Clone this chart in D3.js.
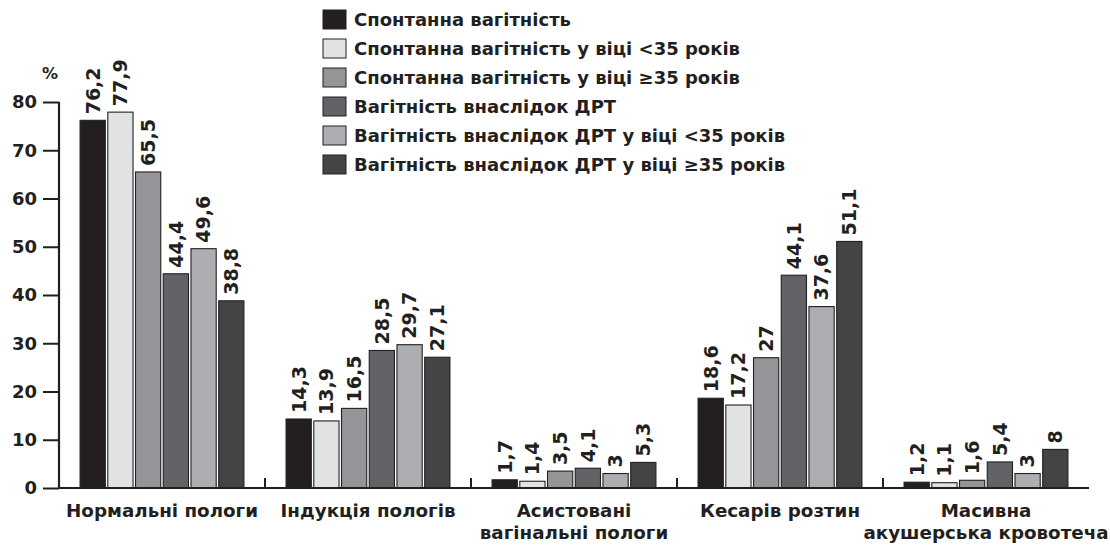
<!DOCTYPE html>
<html>
<head>
<meta charset="utf-8">
<script src="https://cdn.jsdelivr.net/npm/d3@7"></script>
<style>
  html, body { margin: 0; padding: 0; background: #fff; }
  svg { display: block; font-family: "DejaVu Sans", "Liberation Sans", Arial, sans-serif; font-weight: bold; }
</style>
</head>
<body>
<svg id="chart" width="1110" height="545"></svg>
<script>
// Outcome categories (x axis), multi-line labels split on "\n"
const categories = [
  "Нормальні пологи",
  "Індукція пологів",
  "Асистовані\nвагінальні пологи",
  "Кесарів розтин",
  "Масивна\nакушерська кровотеча"
];

// Series names (legend)
const seriesNames = [
  "Спонтанна вагітність",
  "Спонтанна вагітність у віці <35 років",
  "Спонтанна вагітність у віці ≥35 років",
  "Вагітність внаслідок ДРТ",
  "Вагітність внаслідок ДРТ у віці <35 років",
  "Вагітність внаслідок ДРТ у віці ≥35 років"
];

// Percentages per series, one value per category
const spontaneous      = [76.2, 14.3, 1.7, 18.6, 1.2];
const spontaneousUnder = [77.9, 13.9, 1.4, 17.2, 1.1];
const spontaneousOver  = [65.5, 16.5, 3.5, 27.0, 1.6];
const art              = [44.4, 28.5, 4.1, 44.1, 5.4];
const artUnder         = [49.6, 29.7, 3.0, 37.6, 3.0];
const artOver          = [38.8, 27.1, 5.3, 51.1, 8.0];

const seriesValues = [spontaneous, spontaneousUnder, spontaneousOver, art, artUnder, artOver];

const yTicks = [0, 10, 20, 30, 40, 50, 60, 70, 80];

const fills = ["#231f20", "#e1e2e4", "#939598", "#626366", "#adaeb1", "#434446"];
const ink = "#231f20";
const fontStack = "'DejaVu Sans', 'Liberation Sans', Arial, sans-serif";

const svg = d3.select("#chart");

const x0 = d3.scaleBand().domain(d3.range(categories.length)).range([59, 1089]).padding(0);
const x1 = d3.scaleBand().domain(d3.range(seriesNames.length))
  .range([0, x0.bandwidth()]).paddingInner(0.09).paddingOuter(0.76);
const y = d3.scaleLinear().domain([0, 80]).range([488, 102]);

const fmt = v => String(v).replace(".", ",");

// Y axis
const yAxis = svg.append("g").attr("transform", "translate(59,0)")
  .call(d3.axisLeft(y).tickValues(yTicks).tickSize(16).tickPadding(6).tickFormat(d => d));
yAxis.select(".domain").attr("stroke", ink).attr("stroke-width", 2.2)
  .attr("d", `M0,${y(80)}V${y(0) + 1}`);
yAxis.selectAll(".tick line").attr("stroke", ink).attr("stroke-width", 2);
yAxis.selectAll(".tick text").attr("fill", ink)
  .style("font-size", "18px").style("font-weight", "bold")
  .style("font-family", fontStack);

svg.append("text").attr("x", 50).attr("y", 79).attr("text-anchor", "middle")
  .attr("fill", ink).style("font-size", "16px").text("%");

// Bars
const groups = svg.append("g").selectAll("g").data(categories).join("g")
  .attr("transform", (d, i) => `translate(${x0(i)},0)`);

groups.each(function(cat, ci) {
  const g = d3.select(this);
  const data = seriesValues.map((vals, si) => ({ si, v: vals[ci] }));
  g.selectAll("rect").data(data).join("rect")
    .attr("x", d => x1(d.si))
    .attr("y", d => y(d.v))
    .attr("width", x1.bandwidth())
    .attr("height", d => y(0) - y(d.v))
    .attr("fill", d => fills[d.si])
    .attr("stroke", ink)
    .attr("stroke-width", 1.1);
  g.selectAll("text.val").data(data).join("text")
    .attr("class", "val")
    .attr("transform", d => `translate(${x1(d.si) + x1.bandwidth() / 2},${y(d.v) - 6}) rotate(-90)`)
    .attr("dy", "0.36em")
    .attr("text-anchor", "start")
    .attr("fill", ink)
    .style("font-size", "19px")
    .text(d => fmt(d.v));
});

// X axis baseline and category separators
svg.append("line").attr("x1", 58).attr("x2", 1089).attr("y1", y(0)).attr("y2", y(0))
  .attr("stroke", ink).attr("stroke-width", 2.2);
svg.append("g").selectAll("line").data(d3.range(1, categories.length)).join("line")
  .attr("x1", i => x0(i)).attr("x2", i => x0(i))
  .attr("y1", y(0)).attr("y2", y(0) - 10)
  .attr("stroke", ink).attr("stroke-width", 2);

// Category labels
const catLabels = svg.append("g").selectAll("text").data(categories).join("text")
  .attr("x", (d, i) => x0(i) + x0.bandwidth() / 2)
  .attr("y", 517)
  .attr("text-anchor", "middle")
  .attr("fill", ink)
  .style("font-size", "18.3px");
catLabels.each(function(d, i) {
  const t = d3.select(this);
  d.split("\n").forEach((line, li) => {
    t.append("tspan").attr("x", x0(i) + x0.bandwidth() / 2)
      .attr("dy", li === 0 ? 0 : 21.5).text(line);
  });
});

// Legend
const legend = svg.append("g").attr("transform", "translate(323,0)");
const legRows = legend.selectAll("g").data(seriesNames).join("g")
  .attr("transform", (d, i) => `translate(0,${10 + i * 29})`);
legRows.append("rect").attr("x", 0).attr("y", 0).attr("width", 23).attr("height", 19)
  .attr("fill", (d, i) => fills[i]).attr("stroke", ink).attr("stroke-width", 1);
legRows.append("text").attr("x", 31).attr("y", 16)
  .attr("fill", ink).style("font-size", "18px").text(d => d);
</script>
</body>
</html>
